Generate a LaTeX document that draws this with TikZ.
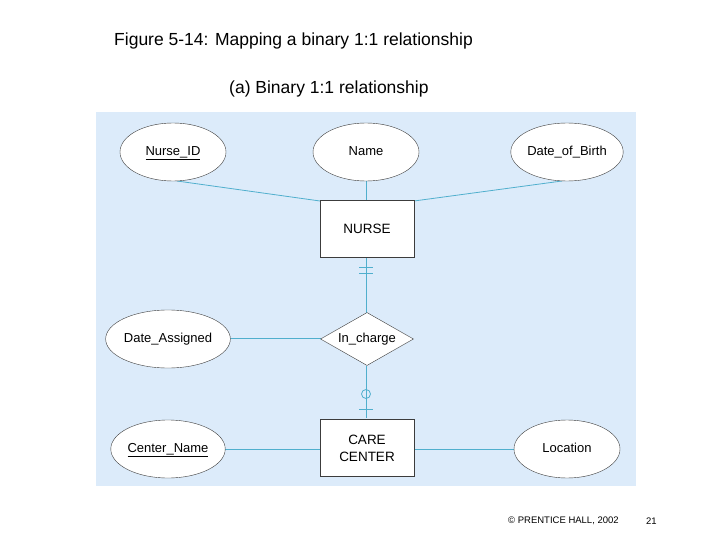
\documentclass[tikz,border=0pt]{standalone}
\usepackage{fontspec}
\setmainfont{Liberation Sans}
\usetikzlibrary{shapes.geometric}
\definecolor{bgc}{RGB}{220,235,250}
\definecolor{lnc}{RGB}{80,175,205}
\definecolor{edc}{RGB}{60,60,60}
\begin{document}
\begin{tikzpicture}[x=1pt,y=-1pt,
  attr/.style={draw=edc,fill=white,ellipse,minimum width=106pt,minimum height=58pt,inner sep=0pt,text height=9.5pt,text depth=3pt,font=\fontsize{13}{15}\selectfont},
  ent/.style={draw=edc,fill=white,rectangle,minimum width=94pt,minimum height=57pt,align=center,font=\fontsize{13.5}{17}\selectfont},
  rel/.style={draw=edc,fill=white,diamond,aspect=1.75,minimum width=93pt,minimum height=53pt,inner sep=0pt,font=\fontsize{13}{15}\selectfont},
  conn/.style={draw=lnc,line width=0.8pt}]
\useasboundingbox (0,0) rectangle (720,540);
\fill[bgc] (96,112) rectangle (636,486);
\node[anchor=west,inner sep=0pt] (t1) at (114,41) {\fontsize{17.5}{20}\selectfont Figure 5-14: Mapping a binary 1:1 relationship};
\node[anchor=west,inner sep=0pt] (t2) at (229,89) {\fontsize{17.5}{20}\selectfont (a) Binary 1:1 relationship};
\node[anchor=west,inner sep=0pt] (cp) at (508,521) {\fontsize{9.5}{11}\selectfont © PRENTICE HALL, 2002};
\node[anchor=west,inner sep=0pt] (pg) at (646,521) {\fontsize{9.5}{11}\selectfont 21};
\coordinate (l1) at (177,181);
\coordinate (r1) at (562,181);
\draw[conn] (l1) -- (320,201);
\draw[conn] (r1) -- (414,201);
\draw[conn] (366,181) -- (366,201);
\draw[conn] (366,257) -- (366,313);
\draw[conn] (366,366) -- (366,418);
\draw[conn] (221,338) -- (321,338);
\draw[conn] (221,449) -- (320,449);
\draw[conn] (414,449) -- (514,449);
\draw[conn] (359,267) -- (373,267) (359,273) -- (373,273);
\draw[conn] (366,394) circle (4.5);
\draw[conn] (359,409) -- (373,409);
\node[attr] (nid) at (173,152) {\underline{Nurse\_ID}};
\node[attr] (nm) at (366,152) {Name};
\node[attr] (dob) at (567,152) {Date\_of\_Birth};
\node[ent] (nurse) at (367,229) {NURSE};
\node[rel] (inc) at (367,339) {In\_charge};
\node[attr] (da) at (168,339) {Date\_Assigned};
\node[ent] (cc) at (367,448) {CARE\\CENTER};
\node[attr] (cn) at (168,449) {\underline{Center\_Name}};
\node[attr] (loc) at (567,449) {Location};
\end{tikzpicture}
\end{document}
